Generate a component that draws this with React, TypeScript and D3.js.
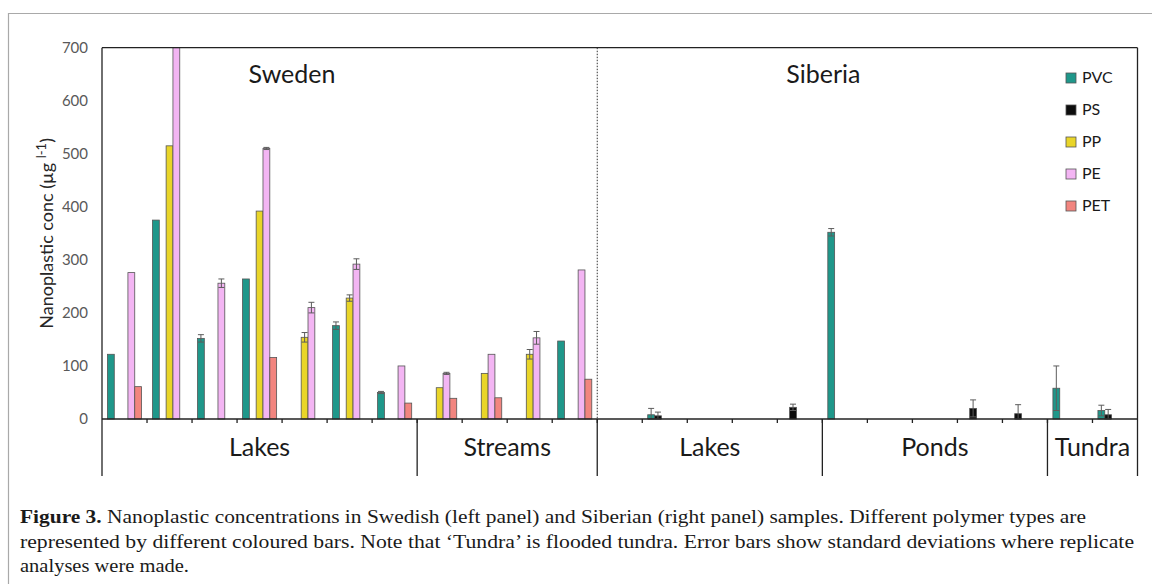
import { useEffect, useRef } from "react";
import * as d3 from "d3";

// samples, left to right (Sweden: 7 lakes, 4 streams; Siberia: 5 lakes, 5 ponds, 2 tundra)
const samples = [
  "SE-L1", "SE-L2", "SE-L3", "SE-L4", "SE-L5", "SE-L6", "SE-L7",
  "SE-S1", "SE-S2", "SE-S3", "SE-S4",
  "SI-L1", "SI-L2", "SI-L3", "SI-L4", "SI-L5",
  "SI-P1", "SI-P2", "SI-P3", "SI-P4", "SI-P5",
  "SI-T1", "SI-T2",
];
const regionLabels = ["Sweden", "Siberia"];
const regionSizes = [11, 12];
const habitatLabels = ["Lakes", "Streams", "Lakes", "Ponds", "Tundra"];
const habitatSizes = [7, 4, 5, 5, 2];

const polymers = ["PVC", "PS", "PP", "PE", "PET"];
const polymerColors = ["#1f978a", "#0d0d0d", "#e9d529", "#f3b5f3", "#f2857f"];

const _ = null;
const pvc = [122, 375, 152, 264, _, 176, 50, _, _, _, 147, _, 8, _, _, _, 352, _, _, _, _, 58, 16];
const ps = [_, _, _, _, _, _, _, _, _, _, _, _, 6, _, _, 22, _, _, _, 20, 10, _, 8];
const pp = [_, 515, _, 392, 154, 228, _, 59, 86, 122, _, _, _, _, _, _, _, _, _, _, _, _, _];
const pe = [276, 700, 256, 510, 210, 292, 100, 86, 122, 153, 281, _, _, _, _, _, _, _, _, _, _, _, _];
const pet = [61, _, _, 116, _, _, 30, 39, 40, _, 75, _, _, _, _, _, _, _, _, _, _, _, _];

const pvcSd = [_, _, 7, _, _, 7, 2, _, _, _, _, _, 12, _, _, _, 7, _, _, _, _, 42, 10];
const psSd = [_, _, _, _, _, _, _, _, _, _, _, _, 7, _, _, 6, _, _, _, 16, 17, _, 10];
const ppSd = [_, _, _, _, 9, 6, _, _, _, 9, _, _, _, _, _, _, _, _, _, _, _, _, _];
const peSd = [_, _, 8, 2, 10, 10, _, 2, _, 12, _, _, _, _, _, _, _, _, _, _, _, _, _];
const petSd = [_, _, _, _, _, _, _, _, _, _, _, _, _, _, _, _, _, _, _, _, _, _, _];

const seriesValues = [pvc, ps, pp, pe, pet];
const seriesSd = [pvcSd, psSd, ppSd, peSd, petSd];

const yTicks = [0, 100, 200, 300, 400, 500, 600, 700];

const captionLines = [
  "Nanoplastic concentrations in Swedish (left panel) and Siberian (right panel) samples. Different polymer types are",
  "represented by different coloured bars. Note that \u2018Tundra\u2019 is flooded tundra. Error bars show standard deviations where replicate",
  "analyses were made.",
];

const App = () => {
  const ref = useRef<SVGSVGElement | null>(null);

  useEffect(() => {
    const svg = d3.select(ref.current);
    svg.selectAll("*").remove();

    const sans = "Lato, 'Open Sans', sans-serif";
    const left = 102, right = 1137.5, top = 47.7, base = 419, groupBottom = 476;

    const x0 = d3.scaleBand<string>().domain(samples).range([left, right]).padding(0);
    const x1 = d3.scaleBand<string>().domain(polymers).range([0, x0.bandwidth()])
      .paddingInner(0).paddingOuter(0.8);
    const y = d3.scaleLinear().domain([0, 700]).range([base, top]);

    // outer light frame
    svg.append("path")
      .attr("d", "M8.5,584 V13.5 H1152")
      .attr("fill", "none").attr("stroke", "#a9a9a9").attr("stroke-width", 1.2);

    // bars
    polymers.forEach((p, k) => {
      const vals = seriesValues[k];
      const g = svg.append("g");
      samples.forEach((s, i) => {
        const v = vals[i];
        if (v == null) return;
        g.append("rect")
          .attr("x", x0(s)! + x1(p)!)
          .attr("y", y(v))
          .attr("width", x1.bandwidth())
          .attr("height", y(0) - y(v))
          .attr("fill", polymerColors[k])
          .attr("stroke", "#555")
          .attr("stroke-width", 0.8);
      });
    });

    // error bars
    polymers.forEach((p, k) => {
      const vals = seriesValues[k];
      const sds = seriesSd[k];
      samples.forEach((s, i) => {
        const v = vals[i], e = sds[i];
        if (v == null || e == null) return;
        const cx = x0(s)! + x1(p)! + x1.bandwidth() / 2;
        const lo = y(Math.max(0, v - e)), hi = y(v + e);
        const g = svg.append("g").attr("stroke", "#5c5c5c").attr("stroke-width", 1);
        g.append("line").attr("x1", cx).attr("x2", cx).attr("y1", lo).attr("y2", hi);
        g.append("line").attr("x1", cx - 3).attr("x2", cx + 3).attr("y1", hi).attr("y2", hi);
        g.append("line").attr("x1", cx - 3).attr("x2", cx + 3).attr("y1", lo).attr("y2", lo);
      });
    });

    // plot frame
    const ax = svg.append("g").attr("stroke", "#222").attr("stroke-width", 1.3).attr("fill", "none");
    ax.append("line").attr("x1", left).attr("x2", right).attr("y1", top).attr("y2", top);
    ax.append("line").attr("x1", left).attr("x2", left).attr("y1", top).attr("y2", groupBottom);
    ax.append("line").attr("x1", right).attr("x2", right).attr("y1", top).attr("y2", groupBottom);
    ax.append("line").attr("x1", left).attr("x2", right).attr("y1", base).attr("y2", base);

    // minor ticks at sample boundaries
    samples.forEach((s, i) => {
      if (i === 0) return;
      const xb = x0(s)!;
      ax.append("line").attr("x1", xb).attr("x2", xb).attr("y1", base).attr("y2", base + 4);
    });

    // habitat group dividers and labels
    let acc = 0;
    habitatSizes.forEach((n, j) => {
      const a = x0(samples[acc])!;
      const b = acc + n < samples.length ? x0(samples[acc + n])! : right;
      if (acc > 0) ax.append("line").attr("x1", a).attr("x2", a).attr("y1", base).attr("y2", groupBottom);
      svg.append("text")
        .attr("x", (a + b) / 2).attr("y", 456)
        .attr("text-anchor", "middle")
        .attr("font-family", sans).attr("font-size", 25).attr("fill", "#1a1a1a")
        .text(habitatLabels[j]);
      acc += n;
    });

    // region labels and dotted divider
    acc = 0;
    regionSizes.forEach((n, j) => {
      const a = x0(samples[acc])!;
      const b = acc + n < samples.length ? x0(samples[acc + n])! : right;
      if (acc > 0) {
        svg.append("line").attr("x1", a).attr("x2", a).attr("y1", top).attr("y2", base)
          .attr("stroke", "#333").attr("stroke-width", 1).attr("stroke-dasharray", "1.5,1.5");
      }
      svg.append("text")
        .attr("x", j === 0 ? 292 : (a + b) / 2 - 44).attr("y", 83)
        .attr("text-anchor", "middle")
        .attr("font-family", sans).attr("font-size", 25).attr("fill", "#1a1a1a")
        .text(regionLabels[j]);
      acc += n;
    });

    // y axis labels
    const yAxis = svg.append("g").attr("transform", `translate(${left},0)`)
      .call(d3.axisLeft(y).tickValues(yTicks).tickSize(0).tickPadding(14));
    yAxis.select(".domain").remove();
    yAxis.selectAll("text")
      .attr("font-family", sans).attr("font-size", 15).attr("fill", "#595959");

    // y axis title
    const yt = svg.append("text")
      .attr("transform", `translate(53,${(top + base) / 2}) rotate(-90)`)
      .attr("text-anchor", "middle")
      .attr("font-family", sans).attr("font-size", 18).attr("fill", "#262626");
    yt.append("tspan").text("Nanoplastic conc (\u00b5g ");
    yt.append("tspan").attr("dy", -7).attr("font-size", 13).text("l-1");
    yt.append("tspan").attr("dy", 7).text(")");

    // legend
    const lg = svg.append("g").attr("transform", "translate(1066,73)");
    polymers.forEach((p, k) => {
      const row = lg.append("g").attr("transform", `translate(0,${k * 32})`);
      row.append("rect").attr("width", 10).attr("height", 10)
        .attr("fill", polymerColors[k]).attr("stroke", "#555").attr("stroke-width", 0.8);
      row.append("text").attr("x", 16).attr("y", 10)
        .attr("font-family", sans).attr("font-size", 16).attr("fill", "#1a1a1a").text(p);
    });

    // caption
    const serif = "'Liberation Serif', 'DejaVu Serif', serif";
    const cap = svg.append("g").attr("font-family", serif).attr("font-size", 19.5).attr("fill", "#1a1a1a");
    const widths = [1066, 1114, 169];
    captionLines.forEach((line, i) => {
      const t = cap.append("text").attr("x", 20).attr("y", 523 + i * 24.5)
        .attr("textLength", widths[i]).attr("lengthAdjust", "spacingAndGlyphs");
      if (i === 0) {
        t.append("tspan").attr("font-weight", "bold").text("Figure 3. ");
        t.append("tspan").text(line);
      } else {
        t.text(line);
      }
    });
  }, []);

  return (
    <svg
      ref={ref}
      width={1152}
      height={584}
      style={{ position: "absolute", left: 0, top: 0, background: "#fff" }}
    />
  );
};

export default App;
